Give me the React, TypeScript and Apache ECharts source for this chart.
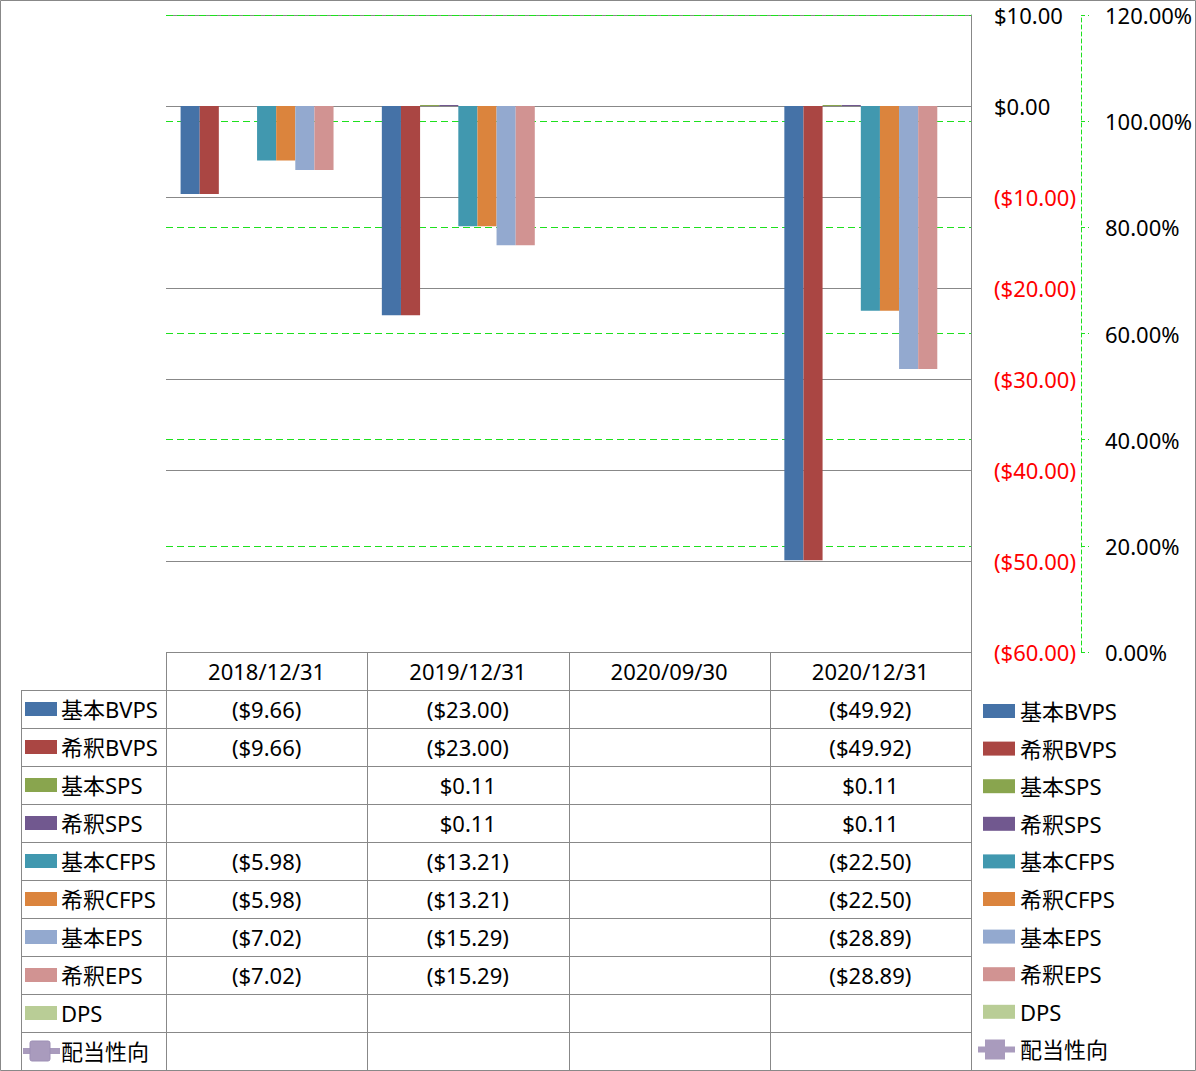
import React, { useEffect, useRef } from "react";
import * as echarts from "echarts";

const categories = ["2018/12/31", "2019/12/31", "2020/09/30", "2020/12/31"];
const seriesNames = ["基本BVPS", "希釈BVPS", "基本SPS", "希釈SPS", "基本CFPS", "希釈CFPS", "基本EPS", "希釈EPS", "DPS", "配当性向"];
const seriesColors = ["#4572A7", "#AA4643", "#89A54E", "#71588F", "#4198AF", "#DB843D", "#93A9CF", "#D19392", "#B9CD96", "#A99BBD"];

const basicBVPS = [-9.66, -23.0, null, -49.92];
const dilutedBVPS = [-9.66, -23.0, null, -49.92];
const basicSPS = [null, 0.11, null, 0.11];
const dilutedSPS = [null, 0.11, null, 0.11];
const basicCFPS = [-5.98, -13.21, null, -22.5];
const dilutedCFPS = [-5.98, -13.21, null, -22.5];
const basicEPS = [-7.02, -15.29, null, -28.89];
const dilutedEPS = [-7.02, -15.29, null, -28.89];
const dps = [null, null, null, null];
const payoutRatio = [null, null, null, null];

const barData = [basicBVPS, dilutedBVPS, basicSPS, dilutedSPS, basicCFPS, dilutedCFPS, basicEPS, dilutedEPS, dps];

const FONT = '"Noto Sans", "Noto Sans CJK JP", sans-serif';
const FS = 22;
const GRID_LEFT = 166;
const GRID_RIGHT_X = 971;
const GRID_TOP = 15;
const GRID_BOTTOM_Y = 652;
const ROW_H = 38;
const TABLE_LEFT = 21;
const W = 1196;
const H = 1071;
const LINE_COLOR = "#888888";
const GREEN = "#1ee01e";
const LEG_STEP = 37.6;
const LEG_TOP = 700;
const LINE_ICON = "path://M0,7H7V0H27V7H37V13H27V20H7V13H0Z";

function money(v: number | null): string {
  if (v === null || v === undefined) return "";
  const a = Math.abs(v).toFixed(2);
  return v < 0 ? `($${a})` : `$${a}`;
}

export default function App() {
  const ref = useRef<HTMLDivElement>(null);
  useEffect(() => {
    if (!ref.current) return;
    const chart = echarts.init(ref.current, null, { renderer: "svg" });
    const colW = (GRID_RIGHT_X - GRID_LEFT) / categories.length;
    const graphics: any[] = [];
    const ln = (x1: number, y1: number, x2: number, y2: number) =>
      graphics.push({
        type: "line",
        silent: true,
        shape: { x1, y1, x2, y2 },
        style: { stroke: LINE_COLOR, lineWidth: 1 },
        z: 10,
      });
    graphics.push({
      type: "rect",
      silent: true,
      shape: { x: 0.5, y: 0.5, width: W - 1, height: H - 1 },
      style: { fill: "none", stroke: LINE_COLOR, lineWidth: 1 },
      z: 10,
    });
    for (let i = 0; i <= categories.length; i++) {
      const x = Math.round(GRID_LEFT + i * colW) + 0.5;
      ln(x, GRID_BOTTOM_Y, x, H - 1);
    }
    ln(TABLE_LEFT + 0.5, GRID_BOTTOM_Y + ROW_H, TABLE_LEFT + 0.5, H - 1);
    ln(GRID_LEFT, GRID_BOTTOM_Y + 0.5, GRID_RIGHT_X, GRID_BOTTOM_Y + 0.5);
    for (let r = 1; r <= seriesNames.length + 1; r++) {
      const y = GRID_BOTTOM_Y + r * ROW_H + 0.5;
      ln(TABLE_LEFT, y, GRID_RIGHT_X + 1, y);
    }
    categories.forEach((c, i) => {
      graphics.push({
        type: "text",
        silent: true,
        x: GRID_LEFT + (i + 0.5) * colW,
        y: GRID_BOTTOM_Y + ROW_H / 2,
        style: { text: c, fontSize: FS, fontFamily: FONT, fill: "#000", align: "center", verticalAlign: "middle" },
        z: 11,
      });
    });
    seriesNames.forEach((name, r) => {
      const cy = GRID_BOTTOM_Y + ROW_H * (r + 1) + ROW_H / 2;
      const color = seriesColors[r];
      if (r < barData.length) {
        graphics.push({
          type: "rect",
          silent: true,
          shape: { x: 25, y: cy - 7, width: 32, height: 14 },
          style: { fill: color },
          z: 11,
        });
      } else {
        graphics.push({
          type: "line",
          silent: true,
          shape: { x1: 23, y1: cy, x2: 60, y2: cy },
          style: { stroke: color, lineWidth: 6 },
          z: 11,
        });
        graphics.push({
          type: "rect",
          silent: true,
          shape: { x: 30, y: cy - 10, width: 20, height: 20, r: 2 },
          style: { fill: color, stroke: "#9d8fb5", lineWidth: 1 },
          z: 12,
        });
      }
      graphics.push({
        type: "text",
        silent: true,
        x: 61,
        y: cy,
        style: { text: name, fontSize: FS, fontFamily: FONT, fill: "#000", align: "left", verticalAlign: "middle" },
        z: 11,
      });
      const vals = r < barData.length ? barData[r] : payoutRatio;
      vals.forEach((v, i) => {
        if (v === null) return;
        graphics.push({
          type: "text",
          silent: true,
          x: GRID_LEFT + (i + 0.5) * colW,
          y: cy,
          style: {
            text: r < barData.length ? money(v as number) : `${((v as number) * 100).toFixed(2)}%`,
            fontSize: FS,
            fontFamily: FONT,
            fill: "#000",
            align: "center",
            verticalAlign: "middle",
          },
          z: 11,
        });
      });
    });

    const series: any[] = barData.map((d, i) => ({
      name: seriesNames[i],
      type: "bar",
      data: d,
      yAxisIndex: 0,
      barGap: "0%",
      barCategoryGap: "14.5%",
      itemStyle: { color: seriesColors[i] },
    }));
    series.push({
      name: seriesNames[9],
      type: "line",
      data: payoutRatio,
      yAxisIndex: 1,
      symbol: "roundRect",
      symbolSize: 14,
      itemStyle: { color: seriesColors[9] },
      lineStyle: { color: seriesColors[9], width: 5 },
    });

    const legendText = { fontSize: FS, lineHeight: 22, color: "#000", fontFamily: FONT };

    chart.setOption({
      animation: false,
      textStyle: { fontFamily: FONT },
      grid: {
        left: GRID_LEFT,
        right: W - GRID_RIGHT_X,
        top: GRID_TOP,
        bottom: H - GRID_BOTTOM_Y,
        containLabel: false,
      },
      legend: [
        {
          orient: "vertical",
          left: 983,
          top: LEG_TOP,
          padding: 0,
          itemWidth: 32,
          itemHeight: 14,
          itemGap: LEG_STEP - 22,
          textStyle: legendText,
          data: seriesNames.slice(0, 9).map((n) => ({ name: n, icon: "rect" })),
          selectedMode: false,
        },
        {
          orient: "vertical",
          left: 978,
          top: LEG_TOP + 9 * LEG_STEP,
          padding: 0,
          itemWidth: 37,
          itemHeight: 20,
          itemGap: 0,
          textStyle: legendText,
          data: [{ name: seriesNames[9], icon: LINE_ICON, itemStyle: { color: seriesColors[9] } }],
          selectedMode: false,
        },
      ],
      xAxis: {
        type: "category",
        data: categories,
        axisLine: { show: false },
        axisTick: { show: false },
        axisLabel: { show: false },
        splitLine: { show: false },
      },
      yAxis: [
        {
          type: "value",
          position: "right",
          min: -60,
          max: 10,
          interval: 10,
          axisLine: { show: true, lineStyle: { color: LINE_COLOR, width: 1 } },
          axisTick: { show: false },
          splitLine: { show: true, lineStyle: { color: LINE_COLOR, width: 1, type: "solid" } },
          axisLabel: {
            margin: 23,
            fontSize: FS,
            fontFamily: FONT,
            formatter: (v: number) => money(v),
            color: (v: any) => (Number(v) < 0 ? "#ff0000" : "#000000"),
          },
        },
        {
          type: "value",
          position: "right",
          offset: 110,
          min: 0,
          max: 1.2,
          interval: 0.2,
          axisLine: { show: true, lineStyle: { color: GREEN, width: 1, type: [4, 3] } },
          axisTick: { show: true, length: 8, lineStyle: { color: GREEN, width: 1, type: [4, 3] } },
          splitLine: { show: true, lineStyle: { color: GREEN, width: 1, type: [7, 4] } },
          axisLabel: {
            margin: 24,
            fontSize: FS,
            fontFamily: FONT,
            color: "#000",
            formatter: (v: number) => `${(v * 100).toFixed(2)}%`,
          },
        },
      ],
      series,
      graphic: graphics,
    });
    return () => chart.dispose();
  }, []);
  return (
    <div
      ref={ref}
      style={{ position: "fixed", left: 0, top: 0, width: W, height: H, background: "#fff" }}
    />
  );
}
